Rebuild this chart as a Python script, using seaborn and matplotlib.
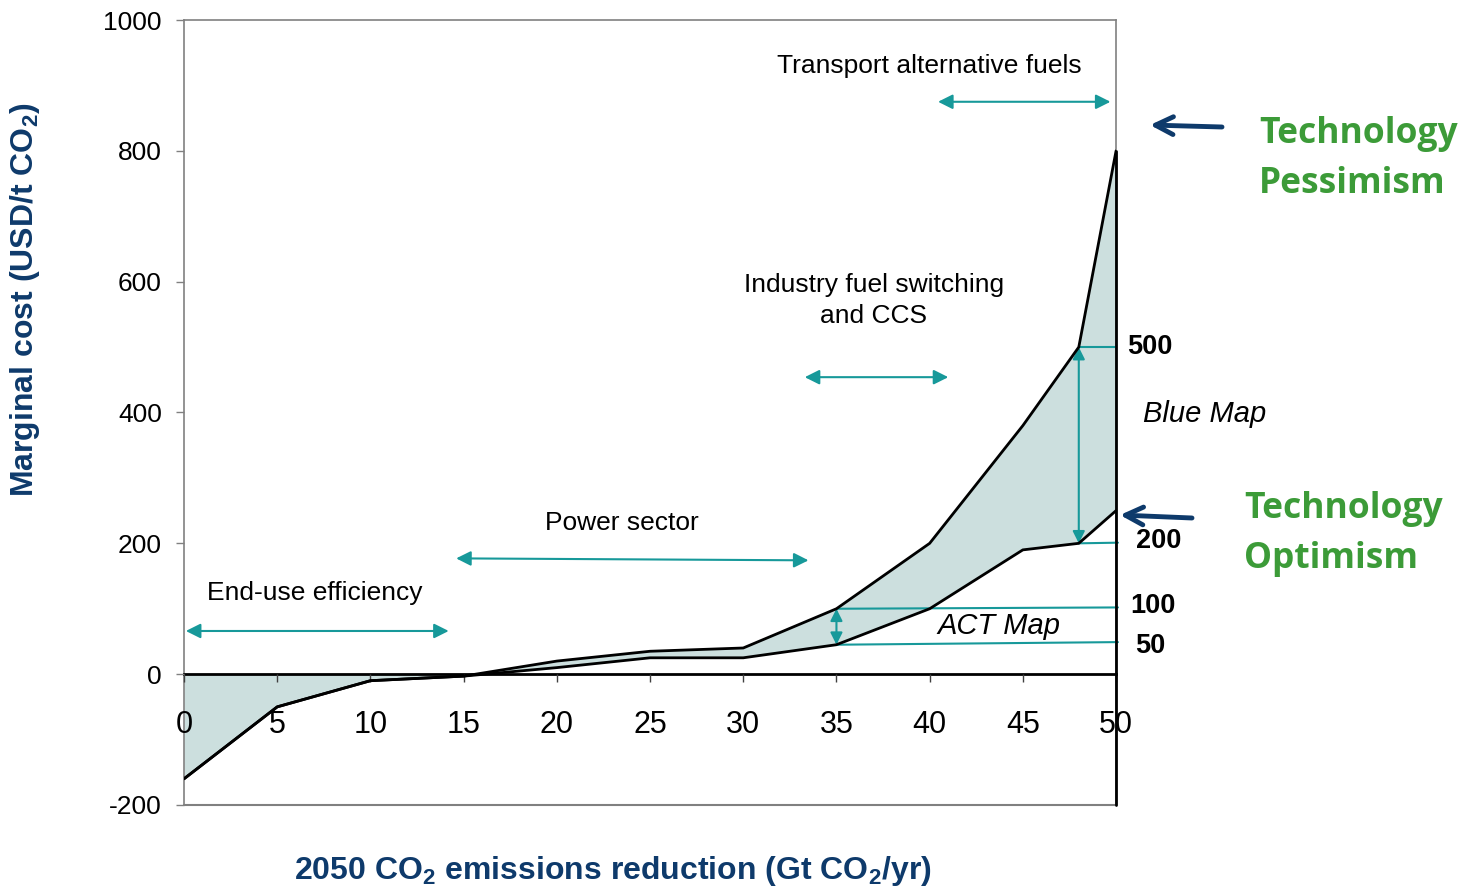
import matplotlib
matplotlib.use("Agg")
import matplotlib.pyplot as plt
import seaborn as sns

# data
reduction = [0, 5, 10, 15, 20, 25, 30, 35, 40, 45, 48, 50]
pessimism = [-160, -50, -10, -3, 20, 35, 40, 100, 200, 380, 500, 800]
optimism = [-160, -50, -10, -3, 10, 25, 25, 45, 100, 190, 200, 250]

xticks = [0, 5, 10, 15, 20, 25, 30, 35, 40, 45, 50]
yticks = [-200, 0, 200, 400, 600, 800, 1000]

# sector arrows: label, label position, arrow start, arrow end
sectors = [
    ("End-use efficiency", (7.0, 124), (0.1, 66), (14.2, 66)),
    ("Power sector", (23.5, 231), (14.6, 177), (33.5, 174)),
    ("Industry fuel switching\nand CCS", (37.0, 571), (33.3, 454), (41.0, 454)),
    ("Transport alternative fuels", (40.0, 930), (40.45, 875), (49.7, 875)),
]
price_labels = [("500", 50.6, 500), ("200", 51.05, 203), ("100", 50.75, 104), ("50", 51.0, 43)]

teal = "#17999A"
navy = "#0E3A6B"
green = "#3C9B38"
fill = "#CCDFDE"

sns.set_style("white")
plt.rcParams["font.family"] = ["Liberation Sans", "DejaVu Sans"]
plt.rcParams["text.color"] = "black"
plt.rcParams["xtick.color"] = "black"
plt.rcParams["ytick.color"] = "black"
plt.rcParams["mathtext.fontset"] = "custom"
plt.rcParams["mathtext.rm"] = "Liberation Sans"
plt.rcParams["mathtext.bf"] = "Liberation Sans:bold"

fig = plt.figure(figsize=(14.72, 8.89), dpi=100)
ax = fig.add_axes([0.125, 0.0945, 0.6332, 0.883])
ax.set_axisbelow(False)

# shaded band
neg_x = [v for v in reduction if v <= 15]
neg_y = optimism[:len(neg_x)]
ax.fill_between(neg_x, neg_y, 0, color=fill, lw=0)
pos_x = [v for v in reduction if v >= 15]
k = len(reduction) - len(pos_x)
ax.fill_between(pos_x, optimism[k:], pessimism[k:], color=fill, lw=0)

sns.lineplot(x=reduction, y=pessimism, ax=ax, color="black", lw=2, zorder=5)
sns.lineplot(x=reduction, y=optimism, ax=ax, color="black", lw=2, zorder=5)
ax.plot([50, 50], [-200, 800], color="black", lw=2, zorder=5, clip_on=False)

ax.set_xlim(0, 50)
ax.set_ylim(-200, 1000)

# frame
for s in ["left", "top", "right"]:
    ax.spines[s].set_color("#808080")
    ax.spines[s].set_linewidth(1.2)
ax.spines["bottom"].set_position(("data", 0))
ax.spines["bottom"].set_color("black")
ax.spines["bottom"].set_linewidth(2)
ax.axhline(-200, color="#808080", lw=1.5, clip_on=False)

ax.set_xticks(xticks)
ax.set_xticklabels([str(t) for t in xticks], fontsize=22)
ax.set_yticks(yticks)
ax.set_yticklabels([str(t) for t in yticks], fontsize=19)
ax.tick_params(axis="x", direction="out", length=6, width=1, color="#404040", pad=20)
ax.tick_params(axis="y", direction="out", length=6, width=1, color="#808080", pad=10, left=True)
ax.tick_params(axis="x", bottom=True)

# sector arrows and labels
for label, (lx, ly), (x0, y0), (x1, y1) in sectors:
    ax.annotate("", xy=(x1, y1), xytext=(x0, y0),
                arrowprops=dict(arrowstyle="<|-|>", color=teal, lw=1.5,
                                mutation_scale=22, shrinkA=0, shrinkB=0))
    ax.text(lx, ly, label, ha="center", va="center", fontsize=19,
            linespacing=1.35)

# range markers
ax.annotate("", xy=(35, 100), xytext=(35, 45),
            arrowprops=dict(arrowstyle="<|-|>", color=teal, lw=1.5,
                            mutation_scale=18, shrinkA=0, shrinkB=0))
ax.annotate("", xy=(48, 500), xytext=(48, 200),
            arrowprops=dict(arrowstyle="<|-|>", color=teal, lw=1.5,
                            mutation_scale=18, shrinkA=0, shrinkB=0))
ax.plot([35, 50.1], [100, 102], color=teal, lw=1.5, clip_on=False, zorder=4)
ax.plot([35, 50.1], [45, 49], color=teal, lw=1.5, clip_on=False, zorder=4)
ax.plot([48, 50], [500, 500], color=teal, lw=1.5, clip_on=False, zorder=4)
ax.plot([48, 50.1], [200, 201], color=teal, lw=1.5, clip_on=False, zorder=4)

for txt, px, py in price_labels:
    ax.text(px, py, txt, ha="left", va="center", fontsize=19.5, fontweight="bold")

ax.text(51.45, 397, "Blue Map", ha="left", va="center", fontsize=21, style="italic")
ax.text(43.7, 73, "ACT Map", ha="center", va="center", fontsize=21, style="italic")

# scenario callouts
fig.text(1259 / 1472, 1 - 159 / 889, "Technology\nPessimism", ha="left", va="center",
         fontsize=25.5, fontweight="bold", color=green, family="Open Sans", linespacing=1.55)
fig.text(1244 / 1472, 1 - 534 / 889, "Technology\nOptimism", ha="left", va="center",
         fontsize=25.5, fontweight="bold", color=green, family="Open Sans", linespacing=1.55)
fig.add_artist(plt.Annotation("", xy=(1150 / 1472, 1 - 125 / 889), xycoords="figure fraction",
                              xytext=(1222 / 1472, 1 - 127 / 889), textcoords="figure fraction",
                              arrowprops=dict(arrowstyle="->", color=navy, lw=3.5,
                                              mutation_scale=32, shrinkA=0, shrinkB=0)))
fig.add_artist(plt.Annotation("", xy=(1120 / 1472, 1 - 515 / 889), xycoords="figure fraction",
                              xytext=(1192 / 1472, 1 - 518 / 889), textcoords="figure fraction",
                              arrowprops=dict(arrowstyle="->", color=navy, lw=3.5,
                                              mutation_scale=32, shrinkA=0, shrinkB=0)))

# axis titles
fig.text(25 / 1472, 1 - 300 / 889, r"Marginal cost (USD/t CO$_\mathbf{2}$)", rotation=90,
         ha="center", va="center", fontsize=23, fontweight="bold", color=navy)
fig.text(613 / 1472, 1 - 871 / 889, r"2050 CO$_\mathbf{2}$ emissions reduction (Gt CO$_\mathbf{2}$/yr)",
         ha="center", va="center", fontsize=23, fontweight="bold", color=navy)

fig.savefig("out.png", dpi=100)
